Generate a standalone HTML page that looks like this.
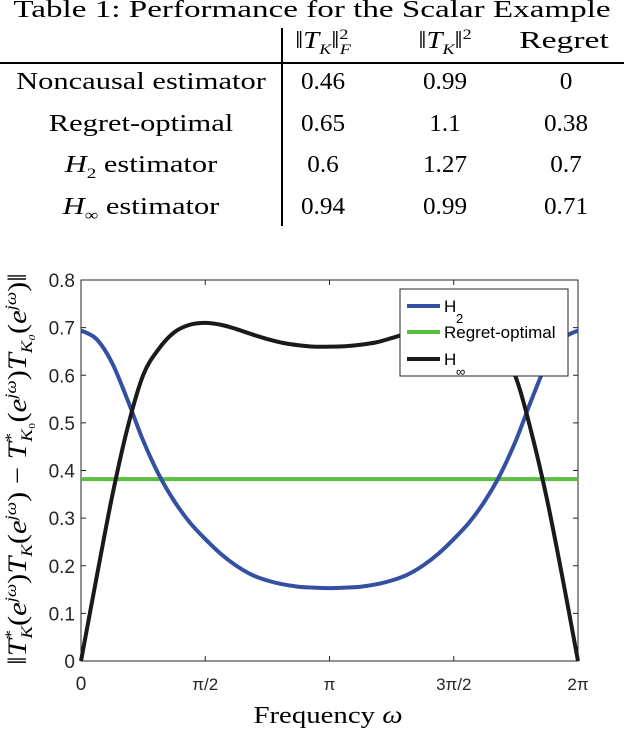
<!DOCTYPE html>
<html><head><meta charset="utf-8"><style>
body{margin:0;background:#fff;width:624px;height:734px;overflow:hidden;position:relative;font-family:"Liberation Serif",serif;}
.t{position:absolute;white-space:nowrap;color:#000;}
i{font-style:italic}
</style></head><body>
<div class="t" style="left:312px;top:-3px;font-size:24px;transform:translateX(-50%) scaleX(1.38);">Table 1: Performance for the Scalar Example</div>
<div style="position:absolute;left:0;top:62px;width:624px;height:1.5px;background:#000"></div>
<div style="position:absolute;left:281px;top:28px;width:1.5px;height:198px;background:#000"></div>
<div class="t" style="left:323px;top:27px;font-size:24px;transform:translateX(-50%) scaleX(1.2);">‖<i>T<sub style="font-size:15px">K</sub></i>‖<sup style="font-size:15px">2</sup><sub style="font-size:15px;margin-left:-7px"><i>F</i></sub></div>
<div class="t" style="left:445px;top:27px;font-size:24px;transform:translateX(-50%) scaleX(1.2);">‖<i>T<sub style="font-size:15px">K</sub></i>‖<sup style="font-size:15px">2</sup></div>
<div class="t" style="left:564px;top:28px;font-size:24px;transform:translateX(-50%) scaleX(1.4);">Regret</div>
<div id="rows"></div>
<svg id="chart" width="624" height="734" style="position:absolute;left:0;top:0"></svg>
<div class="t" style="left:19px;top:469px;font-size:21px;transform:translate(-50%,-50%) rotate(-90deg) scale(1.45,1.25);">‖<i>T</i><sup style="font-size:13px">*</sup><sub style="font-size:13px;margin-left:-6px"><i>K</i></sub>(<i>e<sup style="font-size:13px">jω</sup></i>)<i>T<sub style="font-size:13px">K</sub></i>(<i>e<sup style="font-size:13px">jω</sup></i>) − <i>T</i><sup style="font-size:13px">*</sup><sub style="font-size:13px;margin-left:-6px"><i>K</i>₀</sub>(<i>e<sup style="font-size:13px">jω</sup></i>)<i>T<sub style="font-size:13px">K₀</sub></i>(<i>e<sup style="font-size:13px">jω</sup></i>)‖</div>
<div class="t" style="left:328px;top:703px;font-size:24px;transform:translateX(-50%) scaleX(1.2);">Frequency <i>ω</i></div>
<script>
const rowLabels=["Noncausal estimator","Regret-optimal","<i>H</i><sub style='font-size:15px'>2</sub> estimator","<i>H</i><sub style='font-size:15px'>∞</sub> estimator"];
const colFro=["0.46","0.65","0.6","0.94"];
const colNorm=["0.99","1.1","1.27","0.99"];
const colRegret=["0","0.38","0.7","0.71"];
const rowsEl=document.getElementById('rows');
rowLabels.forEach((l,i)=>{
  const y=69+i*41.5;
  [[l,141,1.27],[colFro[i],323,1.05],[colNorm[i],445,1.05],[colRegret[i],566,1.05]].forEach((c,j)=>{
    const d=document.createElement('div');d.className='t';
    
    
    d.style.left=c[1]+'px';d.style.top=y+'px';d.style.fontSize='24px';
    d.style.transform='translateX(-50%) scaleX('+c[2]+')';
    d.innerHTML=c[0];rowsEl.appendChild(d);
  });
});
// chart data: omega as multiples of pi/16, k=0..32
const omegaK=[...Array(33).keys()];
const h2Half=[0.694,0.676,0.626,0.548,0.463,0.392,0.336,0.291,0.256,0.225,0.2,0.181,0.169,0.161,0.156,0.154,0.153];
const h2Values=h2Half.concat(h2Half.slice(0,16).reverse());
const hinfValues=[0,0.175,0.345,0.49,0.6,0.655,0.69,0.706,0.71,0.706,0.697,0.686,0.676,0.668,0.663,0.66,0.66,0.661,0.664,0.669,0.678,0.688,0.698,0.705,0.708,0.70,0.68,0.645,0.595,0.48,0.34,0.175,0];
const regretValue=0.382;
const yTicks=[0,0.1,0.2,0.3,0.4,0.5,0.6,0.7,0.8];
const xTickLabels=["0","π/2","π","3π/2","2π"];
const X0=81,X1=578,Y0=661,Y1=280;
const sx=w=>X0+(w/(2*Math.PI))*(X1-X0);
const sy=v=>Y0-(v/0.8)*(Y0-Y1);
const svg=document.getElementById('chart');const NS='http://www.w3.org/2000/svg';
function mk(t,a){const e=document.createElementNS(NS,t);for(const k in a)e.setAttribute(k,a[k]);svg.appendChild(e);return e;}
const frame=mk('rect',{x:X0,y:Y1,width:X1-X0,height:Y0-Y1,fill:'none',stroke:'#262626','stroke-width':1});


yTicks.forEach(v=>{
  mk('line',{x1:X0,x2:X0+5,y1:sy(v),y2:sy(v),stroke:'#262626'});
  mk('line',{x1:X1,x2:X1-5,y1:sy(v),y2:sy(v),stroke:'#262626'});
  const t=mk('text',{x:X0-6,y:sy(v)+7,'text-anchor':'end','font-size':19,fill:'#262626','font-family':'Liberation Sans, sans-serif'});
  t.textContent=String(v);
  
  
});
xTickLabels.forEach((l,i)=>{
  const x=sx(i*Math.PI/2);
  mk('line',{x1:x,x2:x,y1:Y0,y2:Y0-5,stroke:'#262626'});
  mk('line',{x1:x,x2:x,y1:Y1,y2:Y1+5,stroke:'#262626'});
  const t=mk('text',{x:x,y:690,'text-anchor':'middle','font-size':i==0?19:17,fill:'#262626','font-family':'Liberation Sans, sans-serif'});
  t.textContent=l;
  
  
});
function smooth(vals){
  const p=vals.map((v,i)=>[sx(omegaK[i]*Math.PI/16),sy(v)]);
  let d='M'+p[0][0]+','+p[0][1];
  for(let i=0;i<p.length-1;i++){
    const a=p[Math.max(i-1,0)],b=p[i],c=p[i+1],e=p[Math.min(i+2,p.length-1)];
    d+=` C${b[0]+(c[0]-a[0])/6},${b[1]+(c[1]-a[1])/6} ${c[0]-(e[0]-b[0])/6},${c[1]-(e[1]-b[1])/6} ${c[0]},${c[1]}`;
  }
  return d;
}
const lr=mk('line',{x1:X0,x2:X1,y1:sy(regretValue),y2:sy(regretValue),stroke:'#5bbf3f','stroke-width':4});


const l2=mk('path',{d:smooth(h2Values),fill:'none',stroke:'#3350a3','stroke-width':4});


const li=mk('path',{d:smooth(hinfValues),fill:'none',stroke:'#1a1a1a','stroke-width':4});


const lg=mk('rect',{x:400,y:289,width:168,height:87,fill:'#fff',stroke:'#262626','stroke-width':1});


[["#3350a3","H","2",306],["#5bbf3f","Regret-optimal","",332],["#1a1a1a","H","∞",359]].forEach(e=>{
  mk('line',{x1:407,x2:440,y1:e[3],y2:e[3],stroke:e[0],'stroke-width':4});
  const t=mk('text',{x:444,y:e[3]+6,'font-size':17,fill:'#000','font-family':'Liberation Sans, sans-serif'});
  t.textContent=e[1];
  
  
  if(e[2]){const s=mk('text',{x:456,y:e[3]+17,'font-size':13,fill:'#000','font-family':'Liberation Sans, sans-serif'});s.textContent=e[2];
  
  }
});
</script>
</body></html>
